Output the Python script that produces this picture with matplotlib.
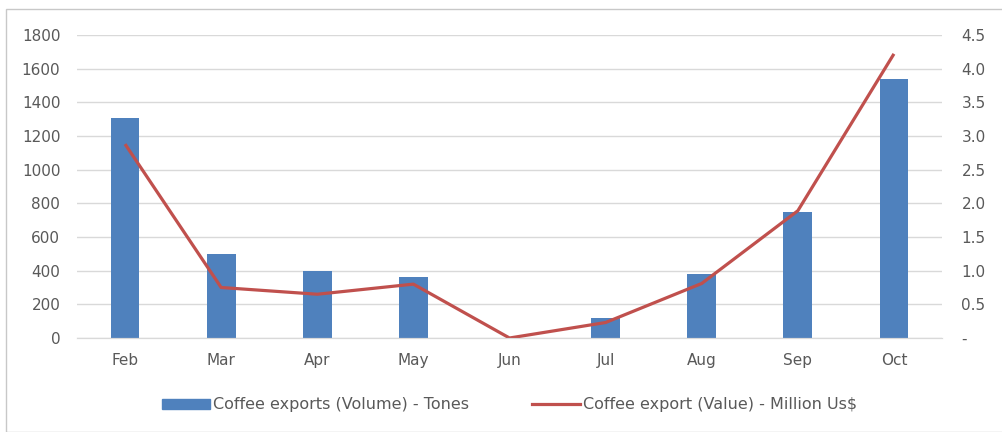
# -*- coding: utf-8 -*-
"""Coffee exports by month: volume (bars, left axis) and value (line, right axis)"""

import matplotlib.pyplot as plt
import matplotlib.patches as mpatches
import matplotlib.lines as mlines
import numpy as np

# Chart data
months = ["Feb", "Mar", "Apr", "May", "Jun", "Jul", "Aug", "Sep", "Oct"]
volume_tones = [1305, 500, 400, 365, 0, 120, 380, 750, 1540]
value_musd = [2.88, 0.75, 0.65, 0.80, 0.0, 0.23, 0.81, 1.89, 4.22]

left_ticks = [0, 200, 400, 600, 800, 1000, 1200, 1400, 1600, 1800]
right_ticks = [0, 0.5, 1.0, 1.5, 2.0, 2.5, 3.0, 3.5, 4.0, 4.5]

bar_color = "#4f81bd"
line_color = "#c0504d"
grid_color = "#d9d9d9"
text_color = "#595959"
tsz = 11
lsz = 11.5

fig = plt.figure(figsize=(10.03, 4.32), dpi=100)
axis = fig.add_axes([77 / 1003, 1 - 338 / 432, (942 - 77) / 1003, (338 - 35) / 432])
axis2 = axis.twinx()

# Light outer frame around the whole chart
fig.patches.append(
    mpatches.Rectangle(
        (6 / 1003, 0.0), 1.0, 1 - 9 / 432,
        transform=fig.transFigure, fill=False, edgecolor="#c8c8c8", linewidth=1.0,
    )
)

xpos = np.arange(len(months))
axis.bar(xpos, volume_tones, width=0.30, color=bar_color, zorder=2)
axis2.plot(xpos, value_musd, color=line_color, linewidth=2.3, solid_capstyle="butt")

# Left axis
axis.set_xlim(-0.5, len(months) - 0.5)
axis.set_ylim(0, 1800)
axis.set_yticks(left_ticks)
axis.set_yticklabels([str(t) for t in left_ticks])
axis.set_xticks(xpos)
axis.set_xticklabels(months)
axis.yaxis.grid(True, color=grid_color, linewidth=1.0, zorder=0)
axis.set_axisbelow(True)

# Right axis (accounting style: zero shown as a dash)
axis2.set_ylim(0, 4.5)
axis2.set_yticks(right_ticks)
axis2.set_yticklabels(["-" if t == 0 else f"{t:.1f}" for t in right_ticks])

for ax in (axis, axis2):
    for side in ("top", "left", "right"):
        ax.spines[side].set_visible(False)
    ax.spines["bottom"].set_color(grid_color)
    ax.tick_params(length=0, labelsize=tsz, colors=text_color)
axis.tick_params(axis="y", pad=12)
axis.tick_params(axis="x", pad=11)
axis2.tick_params(axis="y", pad=14)
for lbl in axis2.get_yticklabels():
    lbl.set_horizontalalignment("left")

# Legend under the plot
handles = [
    mpatches.Patch(color=bar_color, label="Coffee exports (Volume) - Tones"),
    mlines.Line2D([], [], color=line_color, linewidth=2.3,
                  label="Coffee export (Value) - Million Us$"),
]
leg = fig.legend(
    handles=handles, loc="center", bbox_to_anchor=(0.508, 1 - 405 / 432), ncol=2,
    frameon=False, fontsize=lsz, handlelength=3.0, handletextpad=0.15,
    columnspacing=4.0, handleheight=0.6,
)
for txt in leg.get_texts():
    txt.set_color(text_color)

plt.savefig("out.png", dpi=100)
plt.close()
